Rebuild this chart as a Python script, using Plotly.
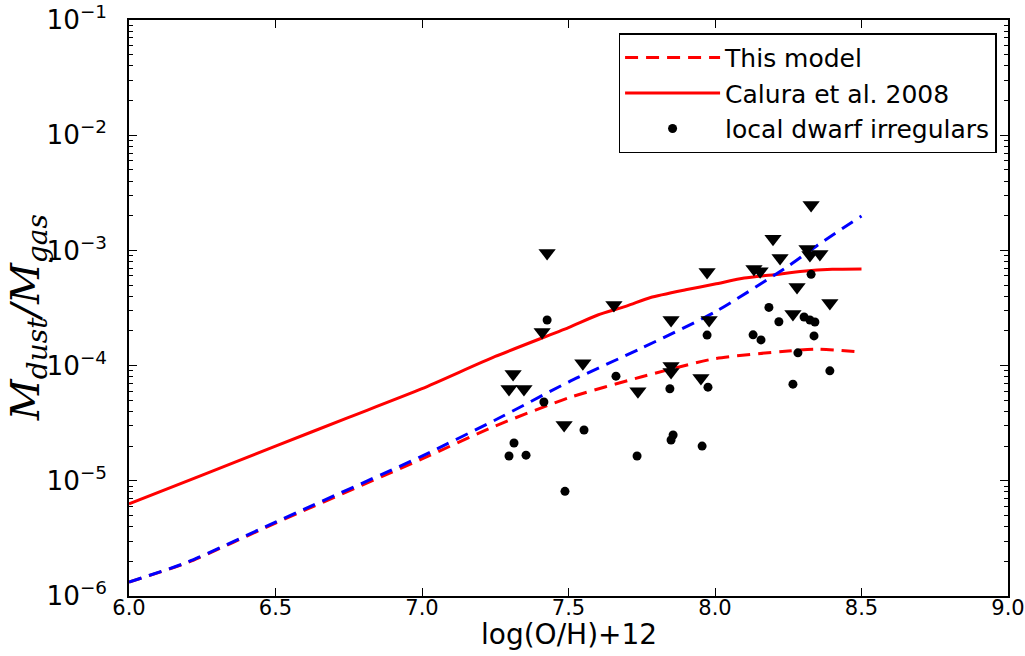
import plotly.graph_objects as go

# model curves (log O/H + 12, dust-to-gas ratio)
oh_model = [6.0, 6.2, 6.5, 7.0, 7.25, 7.5, 7.75, 8.0, 8.25, 8.35, 8.5]
this_model = [1.32e-6, 1.95e-6, 4.3e-6, 1.55e-5, 2.99e-5, 5.25e-5, 8.0e-5, 1.15e-4, 1.34e-4, 1.39e-4, 1.31e-4]
blue_model = [1.32e-6, 1.97e-6, 4.38e-6, 1.64e-5, 3.37e-5, 7.2e-5, 1.42e-4, 2.92e-4, 7.3e-4, 1.11e-3, 1.99e-3]

oh_calura = [6.0, 6.25, 6.5, 6.75, 7.0, 7.25, 7.5, 7.6, 7.7, 7.78, 7.9, 8.0, 8.1, 8.2, 8.3, 8.4, 8.5]
calura = [6.3e-6, 1.12e-5, 2.0e-5, 3.55e-5, 6.3e-5, 1.2e-4, 2.14e-4, 2.75e-4, 3.3e-4, 3.9e-4, 4.55e-4, 5.1e-4, 5.75e-4, 6.15e-4, 6.6e-4, 6.85e-4, 6.9e-4]

# local dwarf irregulars: detections
dw_oh = [7.297, 7.355, 7.314, 7.416, 7.427, 7.488, 7.553, 7.662, 7.734, 7.846, 7.857, 7.850,
         7.956, 7.973, 7.976, 8.130, 8.157, 8.184, 8.218, 8.266, 8.283, 8.304, 8.324, 8.341,
         8.328, 8.338, 8.392]
dw_dg = [1.64e-5, 1.67e-5, 2.13e-5, 4.83e-5, 2.49e-4, 8.1e-6, 2.76e-5, 8.1e-5, 1.64e-5, 6.3e-5,
         2.5e-5, 2.26e-5, 2.0e-5, 1.84e-4, 6.5e-5, 1.85e-4, 1.67e-4, 3.2e-4, 2.4e-4, 6.9e-5,
         1.29e-4, 2.64e-4, 2.49e-4, 2.39e-4, 6.2e-4, 1.81e-4, 9.0e-5]

# upper limits
ul_oh = [7.427, 7.410, 7.655, 7.549, 7.311, 7.297, 7.348, 7.485, 7.737, 7.850, 7.850, 7.850,
         7.952, 7.973, 7.980, 8.198, 8.133, 8.154, 8.222, 8.314, 8.324, 8.358, 8.328, 8.280,
         8.266, 8.392]
ul_dg = [9.5e-4, 1.96e-4, 3.36e-4, 1.05e-4, 8.45e-5, 6.27e-5, 6.27e-5, 3.05e-5, 6.0e-5, 2.49e-4,
         9.9e-5, 8.8e-5, 7.8e-5, 6.5e-4, 2.49e-4, 1.26e-3, 6.9e-4, 6.6e-4, 8.6e-4, 1.03e-3,
         9.1e-4, 9.3e-4, 2.48e-3, 4.8e-4, 2.8e-4, 3.5e-4]

fig = go.Figure()

fig.add_trace(go.Scatter(x=oh_model, y=this_model, mode="lines", name="This model",
                         line=dict(color="#ff0000", width=3, dash="13px,8px", shape="spline", smoothing=0.6)))
fig.add_trace(go.Scatter(x=oh_calura, y=calura, mode="lines", name="Calura et al. 2008",
                         line=dict(color="#ff0000", width=3, shape="spline", smoothing=0.6)))
fig.add_trace(go.Scatter(x=dw_oh, y=dw_dg, mode="markers", name="local dwarf irregulars",
                         marker=dict(color="black", size=9, symbol="circle")))
fig.add_trace(go.Scatter(x=oh_model, y=blue_model, mode="lines", showlegend=False,
                         line=dict(color="#0000ff", width=3, dash="13px,8px", shape="spline", smoothing=0.6)))
fig.add_trace(go.Scatter(x=ul_oh, y=ul_dg, mode="markers", showlegend=False,
                         marker=dict(color="black", size=15, symbol="triangle-down")))

tick_font = dict(family="DejaVu Sans", size=21, color="black")

fig.update_xaxes(range=[6.0, 9.0], dtick=0.5, tickformat=".1f", automargin=False,
                 ticks="inside", ticklen=8, tickcolor="black", mirror="allticks",
                 showline=True, linecolor="black", linewidth=1.5, showgrid=False, zeroline=False,
                 tickfont=tick_font, ticklabelstandoff=-8)
fig.update_yaxes(type="log", range=[-6, -1], dtick=1, exponentformat="power", automargin=False,
                 ticks="inside", ticklen=8, tickcolor="black", mirror="allticks",
                 showline=True, linecolor="black", linewidth=1.5, showgrid=False, zeroline=False,
                 minor=dict(ticks="inside", ticklen=4, tickcolor="black", dtick="D1", showgrid=False),
                 tickfont=tick_font, ticklabelstandoff=16)

# axis titles
fig.add_annotation(text="log(O/H)+12", xref="paper", yref="paper", x=0.5, y=-0.066,
                   xanchor="center", yanchor="middle", showarrow=False,
                   font=dict(family="DejaVu Sans", size=28, color="black"))
fig.add_annotation(text="<i>M</i><sub><i>dust</i></sub><i>/M</i><sub><i>gas</i></sub>",
                   xref="paper", yref="paper", x=-0.115, y=0.484, textangle=-90,
                   xanchor="center", yanchor="middle", showarrow=False,
                   font=dict(family="DejaVu Serif", size=40, color="black"))

fig.update_layout(
    width=1025, height=656,
    margin=dict(l=129, r=17, t=20, b=60),
    plot_bgcolor="white", paper_bgcolor="white",
    legend=dict(x=0.987, y=0.977, xanchor="right", yanchor="top",
                bordercolor="black", borderwidth=1.5, bgcolor="white",
                font=dict(family="DejaVu Sans", size=25, color="black"),
                itemwidth=95, tracegroupgap=0),
)

# drop the default 8px page margin so the figure sits at the window corner
fig.write_html("out.html", config={"displayModeBar": False},
               post_script="document.body.style.margin='0px';")
